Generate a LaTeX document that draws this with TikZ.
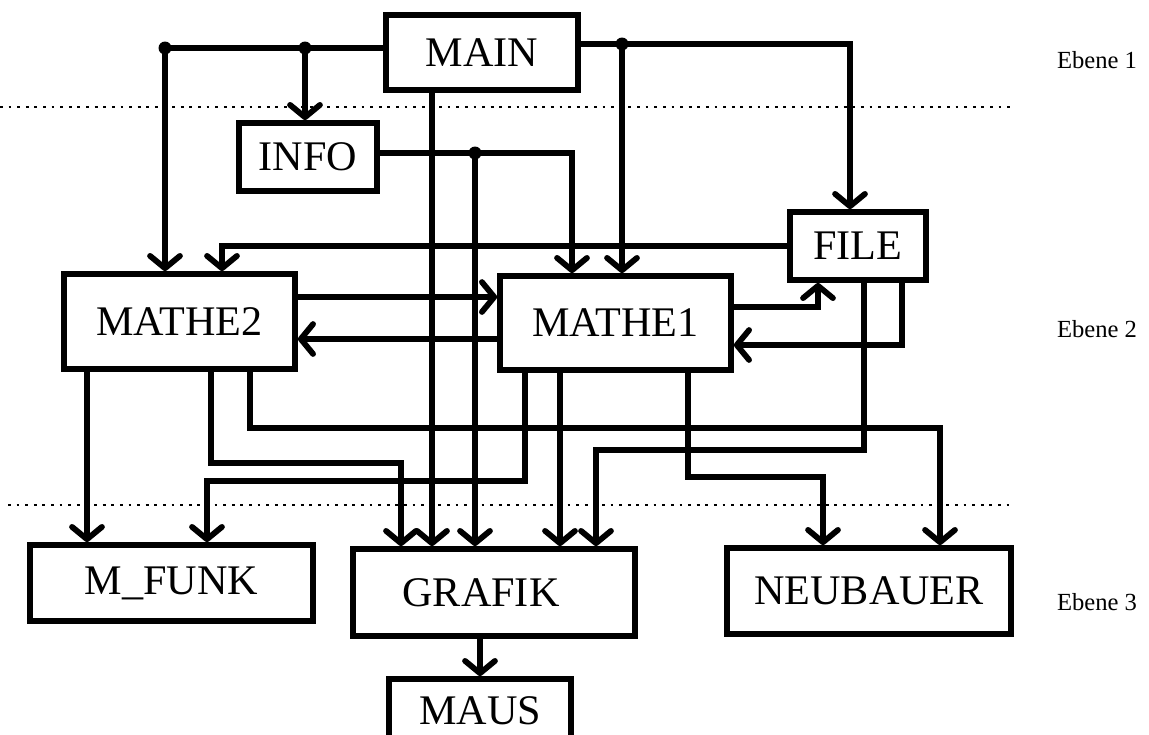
\documentclass[tikz,border=0pt]{standalone}
\usepackage{fontspec}
\setmainfont{Liberation Serif}
\usetikzlibrary{arrows.meta}
\tikzset{
  every picture/.style={x=0.02cm, y=-0.02cm, line width=3.3pt},
  modul/.style={draw, line width=3.3pt, inner sep=0pt, font=\fontsize{24}{28}\selectfont},
  pfeil/.style={-{Straight Barb[length=7pt, width=17pt, round]}},
  linie/.style={line join=miter},
  trenn/.style={line width=1.6pt, dash pattern=on 1.6pt off 3.3pt},
  ebene/.style={font=\fontsize{14}{17}\selectfont},
}

\begin{document}
\begin{tikzpicture}
  \useasboundingbox (0,0) rectangle (1149,734);
  % Ebenen
  \draw[trenn] (0,107) -- (1015,107);
  \draw[trenn] (8,505) -- (1015,505);
  \foreach \n/\y in {1/60, 2/329, 3/602}
    \node[ebene] (ebene\n) at (1097,\y) {Ebene \n};

  % Module
  \node[modul, minimum width=3.84cm, minimum height=1.5cm] (main) at (482,52.5) {MAIN};
  \node[modul, minimum width=2.76cm, minimum height=1.36cm] (info) at (308,157) {INFO};
  \node[modul, minimum width=2.72cm, minimum height=1.36cm] (file) at (858,246) {FILE};
  \node[modul, minimum width=4.62cm, minimum height=1.9cm] (mathe2) at (179.5,321.5) {MATHE2};
  \node[modul, minimum width=4.62cm, minimum height=1.88cm] (mathe1) at (615.5,323) {MATHE1};
  \node[modul, minimum width=5.66cm, minimum height=1.52cm] (mfunk) at (171.5,583) {M\_FUNK};
  \node[modul, minimum width=5.64cm, minimum height=1.74cm] (grafik) at (494,592.5) {GRAFIK\hspace*{0.52cm}};
  \node[modul, minimum width=5.68cm, minimum height=1.72cm] (neubauer) at (869,591) {NEUBAUER};
  \node[modul, minimum width=3.64cm, minimum height=1.28cm] (maus) at (480,711) {MAUS};

  % Verzweigungen
  \coordinate (d1) at (165,48);
  \coordinate (d2) at (305,48);
  \coordinate (d3) at (622,44);
  \coordinate (d4) at (475,153);

  % Aufrufe
  \draw[linie] (main.west |- d1) -- (d1);
  \draw[pfeil] (d1) -- (d1 |- mathe2.north);
  \draw[pfeil] (d2) -- (d2 |- info.north);
  \draw[pfeil] (main.east |- d3) -| (850,0 |- file.north);
  \draw[pfeil] (d3) -- (d3 |- mathe1.north);
  \draw[pfeil] (432,0 |- main.south) -- (432,0 |- grafik.north);
  \draw[pfeil] (info.east |- d4) -| (572,0 |- mathe1.north);
  \draw[pfeil] (d4) -- (d4 |- grafik.north);
  \draw[pfeil] (file.west) -| (222,0 |- mathe2.north);
  \draw[pfeil] (mathe2.east |- 0,297) -- (mathe1.west |- 0,297);
  \draw[pfeil] (mathe1.west |- 0,339) -- (mathe2.east |- 0,339);
  \draw[pfeil] (mathe1.east |- 0,307) -| (818,0 |- file.south);
  \draw[pfeil] (902,0 |- file.south) |- (mathe1.east |- 0,345);
  \draw[pfeil] (864,0 |- file.south) |- (596,450) -- (596,0 |- grafik.north);
  \draw[pfeil] (87,0 |- mathe2.south) -- (87,0 |- mfunk.north);
  \draw[pfeil] (211,0 |- mathe2.south) |- (401,463) -- (401,0 |- grafik.north);
  \draw[pfeil] (250,0 |- mathe2.south) |- (940,428) -- (940,0 |- neubauer.north);
  \draw[pfeil] (525,0 |- mathe1.south) |- (207,481) -- (207,0 |- mfunk.north);
  \draw[pfeil] (560,0 |- mathe1.south) -- (560,0 |- grafik.north);
  \draw[pfeil] (688,0 |- mathe1.south) |- (823,477) -- (823,0 |- neubauer.north);
  \draw[pfeil] (maus.north |- grafik.south) -- (maus.north);

  \foreach \p in {d1, d2, d3, d4}
    \fill (\p) circle (0.13cm);
\end{tikzpicture}
\end{document}
